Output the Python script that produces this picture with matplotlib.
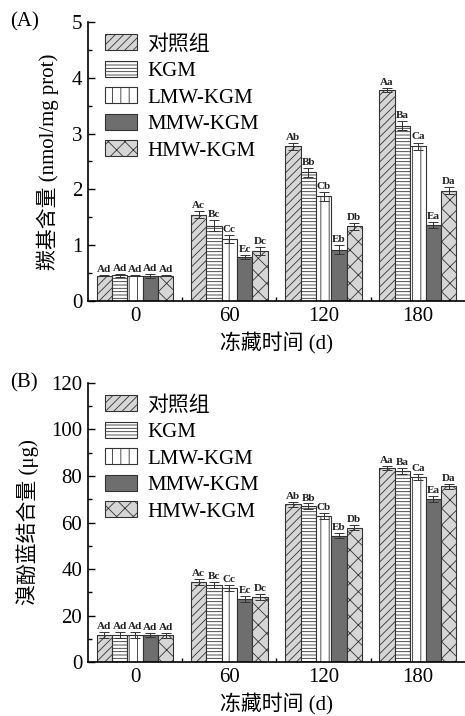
import matplotlib
matplotlib.use("Agg")
import matplotlib.pyplot as plt
import numpy as np
from matplotlib.ticker import MultipleLocator, FixedLocator

plt.rcParams['font.family'] = ['Liberation Serif', 'Noto Sans CJK SC']
plt.rcParams['hatch.linewidth'] = 0.6
plt.rcParams['hatch.color'] = '#6a6a6a'

days = ['0', '60', '120', '180']
groups = ['对照组', 'KGM', 'LMW-KGM', 'MMW-KGM', 'HMW-KGM']

carbonyl = {
    '对照组':  [0.45, 1.55, 2.77, 3.78],
    'KGM':     [0.46, 1.35, 2.31, 3.14],
    'LMW-KGM': [0.45, 1.11, 1.88, 2.77],
    'MMW-KGM': [0.45, 0.79, 0.92, 1.36],
    'HMW-KGM': [0.45, 0.89, 1.34, 1.98],
}
carbonyl_err = {
    '对照组':  [0.01, 0.06, 0.06, 0.04],
    'KGM':     [0.03, 0.10, 0.08, 0.08],
    'LMW-KGM': [0.01, 0.07, 0.08, 0.07],
    'MMW-KGM': [0.03, 0.04, 0.08, 0.06],
    'HMW-KGM': [0.01, 0.07, 0.06, 0.06],
}
carbonyl_letters = {
    '对照组':  ['Ad', 'Ac', 'Ab', 'Aa'],
    'KGM':     ['Ad', 'Bc', 'Bb', 'Ba'],
    'LMW-KGM': ['Ad', 'Cc', 'Cb', 'Ca'],
    'MMW-KGM': ['Ad', 'Ec', 'Eb', 'Ea'],
    'HMW-KGM': ['Ad', 'Dc', 'Db', 'Da'],
}

bpb = {
    '对照组':  [11.5, 34.3, 67.8, 83.5],
    'KGM':     [11.6, 33.1, 67.0, 82.0],
    'LMW-KGM': [11.7, 31.8, 62.9, 79.6],
    'MMW-KGM': [11.6, 27.3, 54.3, 70.1],
    'HMW-KGM': [11.5, 27.8, 57.8, 75.6],
}
bpb_err = {
    '对照组':  [1.3, 1.3, 1.2, 0.9],
    'KGM':     [1.2, 1.3, 1.2, 1.3],
    'LMW-KGM': [1.3, 1.4, 1.2, 1.2],
    'MMW-KGM': [0.9, 1.3, 1.0, 1.3],
    'HMW-KGM': [1.1, 1.3, 1.1, 1.1],
}
bpb_letters = carbonyl_letters

styles = {
    '对照组':  dict(facecolor='#d6d6d6', hatch='////'),
    'KGM':     dict(facecolor='white', hatch='-----'),
    'LMW-KGM': dict(facecolor='white', hatch='||'),
    'MMW-KGM': dict(facecolor='#6e6e6e', hatch=None),
    'HMW-KGM': dict(facecolor='#d6d6d6', hatch='xx'),
}

fig = plt.figure(figsize=(4.65, 7.16), dpi=100)
axA = fig.add_axes([0.189, 0.5796, 0.811, 0.3897])
axB = fig.add_axes([0.189, 0.0754, 0.811, 0.3897])

def draw(ax, data, err, letters, ymax, major, minor, ylabel, tag, lab_off):
    x = np.arange(len(days))
    w = 0.163
    for i, g in enumerate(groups):
        pos = x + (i - 2) * w
        st = styles[g]
        ax.bar(pos, data[g], width=w, facecolor=st['facecolor'], hatch=st['hatch'],
               edgecolor='#333333', linewidth=0.8, label=g, zorder=2)
        ax.errorbar(pos, data[g], yerr=err[g], fmt='none', ecolor='#333333',
                    elinewidth=0.7, capsize=3.5, capthick=0.7, zorder=3)
        for p, v, e, t in zip(pos, data[g], err[g], letters[g]):
            ax.text(p, v + e + lab_off, t, ha='center', va='bottom', fontsize=8,
                    fontweight='bold', color='#222222')
    ax.set_xlim(-0.5, 3.5)
    ax.set_ylim(0, ymax)
    ax.set_xticks(x)
    ax.set_xticklabels(days)
    ax.xaxis.set_minor_locator(FixedLocator([0.5, 1.5, 2.5]))
    ax.yaxis.set_major_locator(MultipleLocator(major))
    ax.yaxis.set_minor_locator(MultipleLocator(minor))
    ax.tick_params(axis='both', which='both', direction='in', labelsize=15, width=1.0)
    ax.tick_params(axis='both', which='major', length=5, pad=4)
    ax.tick_params(axis='both', which='minor', length=3)
    for s in ['top', 'right']:
        ax.spines[s].set_visible(False)
    for s in ['left', 'bottom']:
        ax.spines[s].set_linewidth(1.2)
    ax.set_xlabel('冻藏时间 (d)', fontsize=15, labelpad=5)
    ax.set_ylabel(ylabel, fontsize=15, labelpad=9)
    ax.text(-0.207, 1.0, tag, transform=ax.transAxes, fontsize=15, ha='left', va='center')
    ax.legend(loc='upper left', bbox_to_anchor=(0.011, 1.0), frameon=False,
              fontsize=15, handlelength=1.55, handleheight=0.8,
              labelspacing=0.3, handletextpad=0.5, borderaxespad=0.2)

draw(axA, carbonyl, carbonyl_err, carbonyl_letters, 5, 1, 0.5,
     '羰基含量 (nmol/mg prot)', '(A)', 0.02)
draw(axB, bpb, bpb_err, bpb_letters, 120, 20, 10,
     '溴酚蓝结合量 (μg)', '(B)', 0.4)

fig.savefig('out.png', dpi=100)
